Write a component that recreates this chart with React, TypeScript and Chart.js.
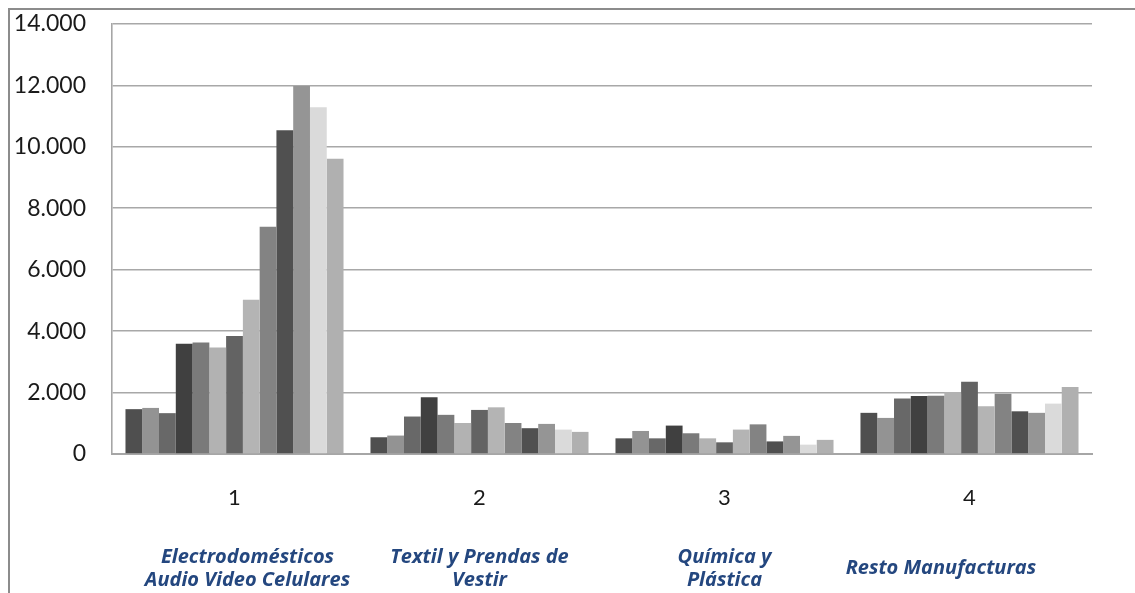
import React, { useEffect, useRef } from 'react';
import { Chart, registerables } from 'chart.js';

Chart.register(...registerables);

const categories = ['1', '2', '3', '4'];
const categoryNames: (string | string[])[] = [
  ['     Electrodomésticos', '     Audio Video Celulares'],
  ['Textil y Prendas de', 'Vestir'],
  ['Química y', 'Plástica'],
  'Resto Manufacturas           ',
];
const yTicks = [0, 2000, 4000, 6000, 8000, 10000, 12000, 14000];

const serie01 = [1460, 545, 510, 1340];
const serie02 = [1500, 600, 750, 1175];
const serie03 = [1330, 1220, 510, 1805];
const serie04 = [3590, 1850, 925, 1890];
const serie05 = [3630, 1275, 675, 1895];
const serie06 = [3470, 1010, 510, 2020];
const serie07 = [3840, 1435, 380, 2350];
const serie08 = [5025, 1520, 795, 1555];
const serie09 = [7395, 1010, 965, 1960];
const serie10 = [10540, 840, 410, 1390];
const serie11 = [11985, 980, 590, 1340];
const serie12 = [11290, 795, 305, 1640];
const serie13 = [9615, 720, 460, 2185];

const seriesList = [
  serie01, serie02, serie03, serie04, serie05, serie06, serie07,
  serie08, serie09, serie10, serie11, serie12, serie13,
];
const seriesColors = [
  '#4f4f4f', '#939393', '#686868', '#404040', '#7a7a7a', '#b2b2b2', '#636363',
  '#b4b4b4', '#838383', '#505050', '#959595', '#dadada', '#b0b0b0',
];

const fmt = (v: number) => String(v).replace(/\B(?=(\d{3})+(?!\d))/g, '.');

export default function App() {
  const ref = useRef<HTMLCanvasElement | null>(null);

  useEffect(() => {
    if (!ref.current) return;
    const chart = new Chart(ref.current, {
      type: 'bar',
      data: {
        labels: categories,
        datasets: seriesList.map((d, i) => ({
          label: 'Serie ' + (i + 1),
          data: d,
          backgroundColor: seriesColors[i],
          borderWidth: 0,
          categoryPercentage: 0.89,
          barPercentage: 1,
          xAxisID: 'x',
        })),
      },
      options: {
        responsive: false,
        animation: false,
        layout: { padding: { top: 24, right: 43, left: 0, bottom: 0 } },
        plugins: { legend: { display: false }, tooltip: { enabled: false }, title: { display: false } },
        scales: {
          x: {
            type: 'category',
            position: 'bottom',
            weight: 0,
            offset: true,
            grid: { display: false },
            border: { display: true, color: '#a6a6a6', width: 2 },
            ticks: {
              color: '#1a1a1a',
              font: { family: 'Lato', size: 22 },
              padding: 23,
              maxRotation: 0,
              autoSkip: false,
            },
            afterFit: (s: any) => { s.height = 60; s.paddingLeft = 0; s.paddingRight = 0; },
          },
          x2: {
            type: 'category',
            position: 'bottom',
            weight: 1,
            offset: true,
            labels: categoryNames as any,
            grid: { display: false, drawTicks: false },
            border: { display: false },
            ticks: {
              color: '#24477f',
              font: { family: 'Open Sans', size: 20, weight: 'bold', style: 'italic', lineHeight: 1.15 },
              padding: 43,
              maxRotation: 0,
              autoSkip: false,
              crossAlign: 'center',
            },
            afterFit: (s: any) => { s.height = 79; s.paddingLeft = 0; s.paddingRight = 0; },
          },
          y: {
            min: 0,
            max: 14000,
            afterBuildTicks: (s: any) => { s.ticks = yTicks.map((v) => ({ value: v })); },
            grid: { color: '#a8a8a8', lineWidth: 1.6, drawTicks: false },
            border: { display: true, color: '#a6a6a6', width: 1.6 },
            ticks: {
              color: '#1a1a1a',
              font: { family: 'Lato', size: 23 },
              padding: 26,
              callback: (v: any) => fmt(Number(v)),
            },
            afterFit: (s: any) => { s.width = 112; s.paddingTop = 0; s.paddingBottom = 0; },
          },
        },
      },
    } as any);
    return () => chart.destroy();
  }, []);

  return (
    <div style={{ position: 'fixed', left: 0, top: 0, width: 1135, height: 593, overflow: 'hidden', background: '#fff' }}>
      <canvas ref={ref} width={1135} height={593} style={{ position: 'absolute', left: 0, top: 0, width: 1135, height: 593 }} />
      <div
        style={{
          position: 'absolute',
          left: 8,
          top: 8,
          right: 0,
          bottom: 0,
          borderLeft: '2px solid #8c8c8c',
          borderTop: '2px solid #8c8c8c',
          pointerEvents: 'none',
        }}
      />
    </div>
  );
}
